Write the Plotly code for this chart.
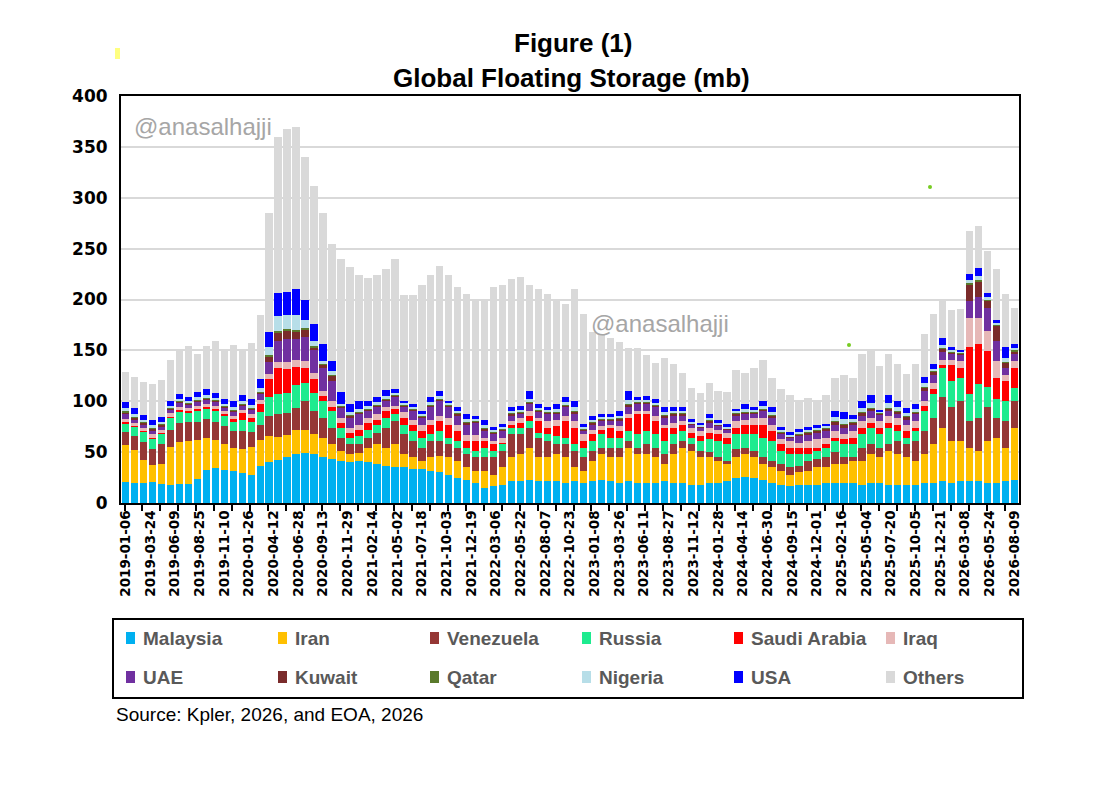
import pandas as pd
import plotly.graph_objects as go

# one bar every 4 weeks, first week 2019-01-06
weeks = pd.date_range("2019-01-06", periods=100, freq="28D")

tick_labels = ["2019-01-06", "2019-03-24", "2019-06-09", "2019-08-25", "2019-11-10",
               "2020-01-26", "2020-04-12", "2020-06-28", "2020-09-13", "2020-11-29",
               "2021-02-14", "2021-05-02", "2021-07-18", "2021-10-03", "2021-12-19",
               "2022-03-06", "2022-05-22", "2022-08-07", "2022-10-23", "2023-01-08",
               "2023-03-26", "2023-06-11", "2023-08-27", "2023-11-12", "2024-01-28",
               "2024-04-14", "2024-06-30", "2024-09-15", "2024-12-01", "2025-02-16",
               "2025-05-04", "2025-07-20", "2025-10-05", "2025-12-21", "2026-03-08",
               "2026-05-24", "2026-08-09"]

# million barrels in floating storage
malaysia = [21, 20, 20, 21, 19, 18, 19, 19, 24, 32,
            34, 32, 31, 29, 28, 36, 40, 42, 45, 48,
            49, 48, 45, 43, 41, 40, 41, 40, 38, 36,
            35, 35, 33, 33, 31, 30, 28, 25, 23, 20,
            15, 17, 18, 22, 22, 23, 22, 22, 22, 20,
            22, 20, 22, 23, 22, 20, 22, 20, 20, 20,
            22, 20, 20, 18, 18, 20, 20, 22, 25, 26,
            25, 23, 20, 18, 17, 18, 18, 18, 20, 20,
            20, 20, 18, 20, 20, 18, 18, 18, 18, 20,
            20, 22, 20, 22, 22, 22, 20, 20, 22, 23]
iran = [36, 32, 22, 16, 19, 37, 41, 42, 38, 32,
        28, 26, 23, 24, 27, 26, 26, 23, 22, 24,
        23, 20, 19, 15, 10, 8, 8, 14, 20, 18,
        23, 13, 12, 8, 14, 16, 17, 16, 12, 11,
        16, 11, 17, 23, 26, 31, 23, 23, 26, 25,
        13, 11, 19, 25, 23, 25, 32, 28, 28, 25,
        16, 28, 34, 33, 27, 25, 21, 16, 20, 22,
        20, 15, 15, 13, 11, 12, 13, 17, 15, 18,
        18, 21, 23, 28, 25, 33, 30, 27, 23, 28,
        38, 52, 41, 39, 32, 29, 41, 44, 32, 51]
venezuela = [13, 14, 18, 16, 20, 17, 19, 19, 18, 19,
             18, 18, 17, 18, 15, 15, 20, 22, 21, 21,
             28, 22, 20, 16, 13, 10, 9, 10, 11, 20,
             23, 20, 16, 13, 16, 15, 13, 13, 13, 14,
             14, 17, 16, 23, 20, 20, 19, 16, 10, 13,
             16, 14, 10, 6, 9, 9, 7, 6, 10, 9,
             10, 10, 7, 7, 6, 5, 4, 3, 8, 6,
             6, 7, 6, 7, 7, 6, 10, 8, 10, 12,
             7, 4, 13, 10, 9, 7, 13, 13, 20, 23,
             26, 30, 33, 39, 27, 33, 33, 20, 27, 26]
russia = [8, 9, 10, 10, 10, 12, 10, 8, 10, 10,
          11, 10, 9, 11, 10, 12, 18, 20, 20, 23,
          18, 18, 16, 16, 10, 6, 8, 8, 8, 10,
          6, 9, 10, 10, 7, 10, 6, 7, 6, 6,
          9, 6, 7, 6, 6, 7, 5, 7, 8, 6,
          7, 9, 10, 14, 10, 10, 10, 14, 13, 14,
          13, 10, 10, 6, 10, 13, 16, 17, 15, 14,
          17, 19, 20, 13, 13, 12, 7, 8, 9, 11,
          13, 13, 14, 16, 14, 16, 10, 6, 10, 19,
          23, 29, 26, 23, 26, 33, 20, 18, 19, 13]
saudi = [2, 1, 1, 1, 1, 1, 2, 2, 2, 1,
         1, 1, 3, 6, 4, 8, 18, 26, 24, 18,
         15, 14, 5, 4, 5, 5, 6, 7, 5, 6,
         5, 7, 6, 7, 9, 10, 13, 10, 7, 10,
         7, 7, 1, 3, 5, 5, 12, 6, 10, 17,
         16, 7, 7, 4, 10, 7, 13, 19, 16, 13,
         13, 6, 6, 5, 5, 6, 7, 6, 6, 9,
         9, 13, 10, 7, 6, 6, 6, 3, 4, 3,
         5, 6, 6, 5, 6, 5, 6, 7, 3, 5,
         5, 3, 16, 10, 46, 39, 35, 21, 20, 20]
iraq = [3, 3, 3, 4, 3, 3, 3, 3, 3, 3,
        3, 3, 3, 3, 3, 4, 5, 6, 7, 7,
        7, 6, 5, 6, 5, 5, 5, 5, 5, 4,
        3, 5, 5, 6, 5, 5, 7, 6, 6, 6,
        3, 3, 5, 4, 5, 4, 3, 7, 6, 5,
        7, 7, 4, 4, 3, 5, 3, 3, 3, 5,
        3, 5, 4, 5, 5, 5, 4, 5, 7, 5,
        7, 7, 6, 5, 7, 5, 7, 9, 6, 7,
        5, 7, 7, 5, 7, 7, 7, 6, 7, 5,
        6, 5, 5, 7, 29, 26, 20, 17, 6, 7]
uae = [4, 3, 3, 3, 3, 3, 4, 3, 4, 4,
       4, 3, 3, 4, 4, 6, 12, 20, 22, 20,
       23, 22, 23, 20, 10, 10, 10, 6, 7, 6,
       9, 6, 8, 7, 12, 14, 10, 9, 10, 12,
       7, 7, 7, 5, 3, 7, 5, 6, 5, 8,
       6, 3, 5, 5, 4, 5, 7, 7, 7, 8,
       7, 7, 5, 3, 3, 5, 4, 3, 5, 5,
       3, 6, 7, 5, 3, 7, 6, 6, 7, 6,
       6, 6, 5, 6, 6, 4, 3, 5, 6, 10,
       8, 7, 5, 6, 17, 20, 23, 19, 7, 6]
kuwait = [2, 2, 2, 2, 2, 2, 2, 2, 2, 2,
          2, 2, 2, 2, 2, 2, 5, 9, 9, 8,
          8, 3, 3, 5, 1, 2, 2, 2, 2, 2,
          2, 1, 2, 1, 2, 2, 2, 2, 2, 1,
          2, 1, 1, 2, 2, 2, 2, 2, 2, 2,
          3, 1, 2, 1, 1, 2, 3, 2, 2, 2,
          2, 2, 2, 1, 1, 2, 1, 1, 2, 2,
          2, 2, 2, 1, 1, 1, 2, 2, 2, 3,
          3, 2, 3, 3, 1, 3, 3, 3, 2, 4,
          3, 4, 2, 1, 16, 16, 7, 15, 5, 3]
qatar = [1, 0.5, 0.5, 0.5, 0.5, 0.5, 0.5, 0.5, 0.5, 0.5,
         0.5, 0.5, 0.5, 0.5, 0.5, 0.5, 1, 1, 1, 1,
         1, 1, 1, 1, 0.5, 0.5, 0.5, 0.5, 0.5, 0.5,
         0.5, 0.5, 0.5, 0.5, 0.5, 0.5, 0.5, 0.5, 0.5, 0.5,
         0.5, 0.5, 0.5, 0.5, 0.5, 0.5, 0.5, 0.5, 0.5, 0.5,
         0.5, 0.5, 0.5, 0.5, 0.5, 0.5, 0.5, 0.5, 0.5, 0.5,
         0.5, 0.5, 0.5, 0.5, 0.5, 0.5, 0.5, 0.5, 0.5, 0.5,
         0.5, 0.5, 0.5, 0.5, 0.5, 0.5, 0.5, 0.5, 0.5, 0.5,
         0.5, 0.5, 0.5, 0.5, 0.5, 0.5, 0.5, 0.5, 0.5, 0.5,
         0.5, 0.5, 0.5, 0.5, 1, 1, 1, 1, 1, 1]
nigeria = [3, 3, 2, 3, 2, 2, 2, 2, 3, 3,
           2, 2, 3, 3, 3, 4, 8, 15, 14, 15,
           8, 5, 3, 4, 2, 3, 3, 3, 3, 3,
           2, 2, 2, 2, 3, 3, 2, 2, 3, 2,
           3, 2, 2, 2, 2, 3, 2, 2, 3, 3,
           4, 2, 2, 2, 2, 2, 4, 2, 2, 2,
           3, 2, 2, 1, 1, 2, 1, 1, 2, 3,
           2, 3, 3, 2, 1, 2, 2, 2, 2, 4,
           5, 3, 4, 5, 1, 5, 4, 3, 3, 3,
           2, 3, 2, 1, 3, 4, 2, 2, 4, 2]
usa = [6, 6, 5, 5, 5, 5, 5, 4, 5, 6,
       5, 5, 6, 6, 6, 8, 15, 22, 22, 25,
       20, 17, 16, 10, 12, 8, 8, 5, 5, 6,
       4, 2, 3, 3, 5, 5, 2, 4, 5, 3,
       5, 3, 3, 4, 4, 8, 4, 3, 5, 5,
       6, 3, 4, 3, 3, 5, 9, 3, 4, 4,
       5, 4, 4, 3, 2, 4, 3, 3, 2, 5,
       3, 5, 5, 3, 3, 3, 3, 3, 2, 6,
       7, 4, 7, 8, 2, 8, 6, 5, 5, 6,
       5, 7, 3, 2, 6, 8, 4, 3, 10, 4]
others = [30, 30, 32, 35, 36, 40, 44, 50, 37, 42,
          51, 47, 55, 44, 55, 63, 117, 154, 161, 160,
          140, 136, 129, 115, 130, 134, 124, 121, 120, 118,
          127, 104, 107, 124, 120, 122, 124, 118, 118, 115,
          119, 138, 137, 126, 127, 104, 113, 111, 103, 91,
          110, 108, 83, 78, 75, 68, 42, 48, 40, 35,
          48, 42, 33, 31, 30, 30, 29, 32, 38, 30,
          38, 40, 28, 38, 37, 27, 29, 23, 29, 32,
          36, 36, 46, 43, 43, 40, 36, 33, 39, 43,
          49, 36, 36, 40, 42, 41, 42, 50, 52, 36]

names = ["Malaysia", "Iran", "Venezuela", "Russia", "Saudi Arabia", "Iraq",
         "UAE", "Kuwait", "Qatar", "Nigeria", "USA", "Others"]
values = [malaysia, iran, venezuela, russia, saudi, iraq,
          uae, kuwait, qatar, nigeria, usa, others]
colors = ["#00B0F0", "#FFC000", "#953735", "#1EEB8F", "#FF0000", "#E6B8B7",
          "#7030A0", "#7A2B2B", "#5A7A2B", "#B7DEE8", "#0000FF", "#D9D9D9"]


# plot area is 120..1018 px wide and 95..502 px tall on the screenshot
def px_x(x):
    return (x - 120) / 898


def px_y(y):
    return (502 - y) / 407


fig = go.Figure()
for name, vals, color in zip(names, values, colors):
    fig.add_trace(go.Bar(x=weeks, y=vals, name=name, marker_color=color,
                         marker_line_width=0, showlegend=False))

# the page adds a ~7px body margin, so the margins are shifted by that
fig.update_layout(
    width=1100, height=811,
    margin=dict(l=113, r=89, t=88, b=316),
    barmode="stack", bargap=0.18,
    plot_bgcolor="white", paper_bgcolor="white",
    font=dict(family="Liberation Sans, Arial, sans-serif", color="black"),
)

fig.update_yaxes(range=[0, 400], dtick=50, showgrid=True, gridcolor="#D9D9D9",
                 gridwidth=1.5, showline=True, linecolor="black", linewidth=2,
                 mirror=True, ticks="outside", ticklen=8, tickcolor="white",
                 tickfont=dict(family="DejaVu Sans", size=17, weight="bold"),
                 zeroline=False)

fig.update_xaxes(type="date", range=["2018-12-23", "2026-08-23"],
                 tickmode="array", tickvals=tick_labels, ticktext=tick_labels,
                 tickangle=-90, ticks="", showgrid=False,
                 tickfont=dict(family="DejaVu Sans", size=13.5, weight="bold"),
                 showline=True, linecolor="black", linewidth=2, mirror=True,
                 minor=dict(ticks="outside", ticklen=6, tickwidth=1.5, tickcolor="black",
                            dtick=8 * 7 * 86400000, tick0="2019-01-03", showgrid=False))

# title
fig.add_annotation(text="<b>Figure (1)</b>", x=px_x(572), y=px_y(42), xref="paper", yref="paper",
                   yanchor="middle", showarrow=False, font=dict(size=26))
fig.add_annotation(text="<b>Global Floating Storage (mb)</b>", x=px_x(570), y=px_y(77),
                   xref="paper", yref="paper", yanchor="middle", showarrow=False,
                   font=dict(size=26))

# watermarks
for wx, wy in [(131, 125), (588, 322)]:
    fig.add_annotation(text="@anasalhajji", x=px_x(wx), y=px_y(wy), xref="paper", yref="paper",
                       xanchor="left", yanchor="middle", showarrow=False,
                       font=dict(size=24, color="#A6A6A6"))

# legend box drawn by hand: 6 columns x 2 rows
fig.add_shape(type="rect", xref="paper", yref="paper", x0=px_x(112), x1=px_x(1022),
              y0=px_y(697), y1=px_y(618), line=dict(color="black", width=2))
for i, (name, color) in enumerate(zip(names, colors)):
    sx = 125 + 152 * (i % 6)
    sy = 637 + 39 * (i // 6)
    fig.add_shape(type="rect", xref="paper", yref="paper", x0=px_x(sx), x1=px_x(sx + 9),
                  y0=px_y(sy + 6), y1=px_y(sy - 6), fillcolor=color, line=dict(width=0))
    fig.add_annotation(text=name, x=px_x(sx + 15), y=px_y(sy), xref="paper", yref="paper",
                       xanchor="left", yanchor="middle", showarrow=False,
                       font=dict(size=19, color="#595959", weight="bold"))

fig.add_annotation(text="Source: Kpler, 2026, and EOA, 2026", x=px_x(113), y=px_y(713),
                   xref="paper", yref="paper", xanchor="left", yanchor="middle",
                   showarrow=False, font=dict(size=19))

# small stray marks seen in the original image
fig.add_shape(type="rect", xref="paper", yref="paper", x0=px_x(114), x1=px_x(119),
              y0=px_y(58), y1=px_y(47), fillcolor="#FFFF80", line=dict(width=0))
for gx, gy in [(929, 186), (848, 344)]:
    fig.add_shape(type="circle", xref="paper", yref="paper", x0=px_x(gx - 2), x1=px_x(gx + 2),
                  y0=px_y(gy + 2), y1=px_y(gy - 2), fillcolor="#77CC22", line=dict(width=0))

fig.write_html("out.html")
